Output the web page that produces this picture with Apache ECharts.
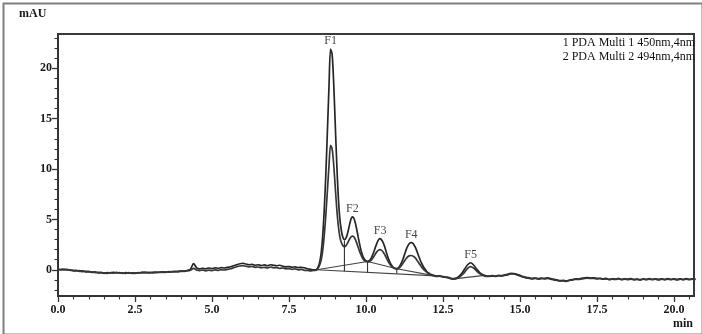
<!DOCTYPE html>
<html><head><meta charset="utf-8">
<script src="https://cdn.jsdelivr.net/npm/echarts@6/dist/echarts.min.js"></script>
<style>html,body{margin:0;padding:0;background:#fff}#c{width:702px;height:334px}</style>
</head><body><div id="c"></div>
<script>
// retention time (min)
var times = [
0.0,0.1,0.2,0.3,0.4,0.5,0.6,0.7,0.8,0.9,1.0,1.1,1.2,1.3,1.4,1.5,1.6,1.7,1.8,1.9,2.0,2.1,2.2,2.3,2.4,2.5,2.6,2.7,2.8,2.9,3.0,3.1,3.2,3.3,3.4,3.5,3.6,3.7,3.8,3.9,4.0,4.1,4.2,4.3,4.4,4.5,4.6,4.7,4.8,4.9,5.0,5.1,5.2,5.3,5.4,5.5,5.6,5.7,5.8,5.9,6.0,6.1,6.2,6.3,6.4,6.5,6.6,6.7,6.8,6.9,7.0,7.1,7.2,7.3,7.4,7.5,7.6,7.7,7.8,7.9,8.0,8.1,8.2,8.3,
8.35,8.40,8.45,8.50,8.55,8.60,8.65,8.70,8.75,8.80,8.85,8.90,8.95,9.00,9.05,9.10,9.15,9.20,9.25,9.30,9.35,9.40,9.45,9.50,9.55,9.60,9.65,9.70,9.75,9.80,9.85,9.90,9.95,10.00,10.05,10.10,10.15,10.20,10.25,10.30,10.35,10.40,10.45,10.50,10.55,10.60,10.65,10.70,10.75,10.80,10.85,10.90,10.95,11.00,11.05,11.10,11.15,11.20,11.25,11.30,11.35,11.40,11.45,11.50,11.55,11.60,11.65,11.70,11.75,11.80,11.85,11.90,11.95,12.00,12.05,
12.1,12.2,12.3,12.4,12.5,12.6,12.7,12.8,12.9,13.0,13.1,13.2,13.3,13.4,13.5,13.6,13.7,13.8,13.9,14.0,14.1,14.2,14.3,14.4,14.5,14.6,14.7,14.8,14.9,15.0,15.1,15.2,15.3,15.4,15.5,15.6,15.7,15.8,15.9,16.0,16.1,16.2,16.3,16.4,16.5,16.6,16.7,16.8,16.9,17.0,17.1,17.2,17.3,17.4,17.5,17.6,17.7,17.8,17.9,18.0,18.1,18.2,18.3,18.4,18.5,18.6,18.7,18.8,18.9,19.0,19.1,19.2,19.3,19.4,19.5,19.6,19.7,19.8,19.9,20.0,20.1,20.2,20.3,20.4,20.5,20.6,20.7
];
// 1 PDA Multi 1 450nm,4nm (mAU)
var s450 = [
0.05,0.0,0.08,-0.02,0.0,-0.1,-0.05,-0.15,-0.1,-0.2,-0.15,-0.25,-0.2,-0.3,-0.25,-0.35,-0.28,-0.32,-0.25,-0.3,-0.28,-0.35,-0.27,-0.33,-0.3,-0.36,-0.28,-0.3,-0.22,-0.3,-0.25,-0.3,-0.22,-0.26,-0.2,-0.25,-0.18,-0.22,-0.15,-0.2,-0.1,-0.15,-0.05,0.05,0.62,0.2,0.1,0.15,0.1,0.18,0.12,0.2,0.15,0.22,0.18,0.25,0.3,0.4,0.5,0.6,0.65,0.58,0.5,0.55,0.45,0.5,0.42,0.48,0.4,0.5,0.45,0.4,0.45,0.35,0.3,0.32,0.25,0.3,0.22,0.25,0.2,0.1,0.05,0.0,
0.0,0.05,0.3,0.8,1.8,3.6,6.3,9.8,14.0,18.3,21.9,21.4,18.6,14.6,10.6,7.3,5.1,3.9,3.2,3.0,3.15,3.6,4.25,4.9,5.25,5.15,4.7,4.0,3.2,2.45,1.8,1.35,1.05,0.9,0.85,0.9,1.05,1.35,1.75,2.2,2.6,2.95,3.1,3.0,2.75,2.35,1.85,1.35,0.95,0.6,0.38,0.22,0.14,0.12,0.2,0.38,0.68,1.05,1.5,1.95,2.32,2.58,2.7,2.68,2.52,2.25,1.88,1.45,1.05,0.68,0.38,0.12,-0.08,-0.25,-0.35,
-0.45,-0.55,-0.62,-0.6,-0.68,-0.72,-0.78,-0.88,-0.85,-0.7,-0.4,0.05,0.5,0.7,0.45,0.05,-0.3,-0.5,-0.6,-0.62,-0.58,-0.62,-0.55,-0.58,-0.5,-0.45,-0.35,-0.38,-0.45,-0.55,-0.68,-0.75,-0.8,-0.85,-0.82,-0.88,-0.82,-0.86,-0.8,-0.88,-0.95,-1.0,-1.08,-1.05,-1.1,-1.02,-0.98,-0.9,-0.92,-0.85,-0.8,-0.78,-0.82,-0.8,-0.86,-0.84,-0.9,-0.86,-0.95,-0.9,-0.92,-0.86,-0.95,-0.9,-0.93,-0.88,-0.96,-0.92,-0.98,-0.9,-0.95,-0.88,-0.94,-0.9,-0.96,-0.9,-0.95,-0.88,-0.94,-0.9,-0.96,-0.9,-0.95,-0.88,-0.94,-0.9,-0.92
];
// 2 PDA Multi 2 494nm,4nm (mAU)
var s494 = [
0.0,0.05,-0.02,0.05,-0.05,-0.05,-0.12,-0.08,-0.18,-0.15,-0.22,-0.2,-0.28,-0.25,-0.32,-0.3,-0.35,-0.28,-0.33,-0.26,-0.34,-0.3,-0.36,-0.28,-0.35,-0.3,-0.33,-0.26,-0.3,-0.25,-0.3,-0.24,-0.28,-0.22,-0.25,-0.2,-0.24,-0.17,-0.2,-0.13,-0.17,-0.1,-0.1,-0.05,0.15,-0.02,-0.08,-0.02,-0.1,-0.03,-0.08,0.0,-0.05,0.02,-0.02,0.05,0.1,0.2,0.3,0.38,0.42,0.35,0.3,0.33,0.25,0.28,0.2,0.25,0.18,0.28,0.2,0.22,0.15,0.18,0.1,0.12,0.05,0.1,0.0,0.05,-0.05,-0.05,-0.1,-0.05,
-0.05,0.0,0.2,0.5,1.05,2.05,3.6,5.6,8.0,10.4,12.35,12.0,10.5,8.3,6.1,4.4,3.3,2.7,2.4,2.3,2.4,2.65,2.95,3.2,3.35,3.3,3.05,2.65,2.2,1.75,1.4,1.1,0.92,0.82,0.78,0.8,0.9,1.08,1.3,1.55,1.78,1.93,2.0,1.95,1.8,1.55,1.25,0.95,0.68,0.45,0.28,0.17,0.1,0.08,0.12,0.24,0.42,0.64,0.88,1.1,1.28,1.38,1.42,1.4,1.32,1.18,0.98,0.75,0.52,0.3,0.1,-0.05,-0.18,-0.3,-0.4,
-0.5,-0.6,-0.66,-0.64,-0.72,-0.75,-0.82,-0.92,-0.9,-0.78,-0.55,-0.25,0.15,0.32,0.15,-0.15,-0.4,-0.55,-0.65,-0.66,-0.62,-0.66,-0.6,-0.62,-0.55,-0.5,-0.4,-0.42,-0.5,-0.6,-0.72,-0.8,-0.85,-0.9,-0.86,-0.92,-0.87,-0.9,-0.85,-0.92,-1.0,-1.05,-1.12,-1.1,-1.14,-1.06,-1.02,-0.95,-0.96,-0.9,-0.85,-0.83,-0.86,-0.85,-0.9,-0.88,-0.94,-0.9,-0.98,-0.94,-0.96,-0.9,-0.98,-0.94,-0.97,-0.92,-1.0,-0.96,-1.02,-0.94,-0.98,-0.92,-0.98,-0.94,-1.0,-0.94,-0.99,-0.92,-0.98,-0.94,-1.0,-0.94,-0.99,-0.92,-0.98,-0.94,-0.96
];
// integration baselines
var baseUpperT = [8.4, 10.05, 11.0, 12.15];
var baseUpperV = [0.0, 0.82, 0.1, -0.55];
var baseLowerT = [8.4, 12.25];
var baseLowerV = [0.0, -0.6];
var baseF5T = [12.85, 13.85];
var baseF5V = [-0.9, -0.55];
// drop lines
var dropT = [9.3, 10.05, 11.0];
var dropTop = [2.9, 0.82, 0.1];
var dropBottom = [-0.14, -0.26, -0.37];
// peak labels
var peakNames = ['F1', 'F2', 'F3', 'F4', 'F5'];
var peakT = [8.85, 9.56, 10.46, 11.47, 13.4];
var peakV = [21.95, 5.25, 3.1, 2.7, 0.7];
// axis ticks
var xLabels = [0, 2.5, 5, 7.5, 10, 12.5, 15, 17.5, 20];
var xMinor = [0.5,1,1.5,2,3,3.5,4,4.5,5.5,6,6.5,7,8,8.5,9,9.5,10.5,11,11.5,12,13,13.5,14,14.5,15.5,16,16.5,17,18,18.5,19,19.5,20.5];
var yLabels = [0, 5, 10, 15, 20];
var yMinor = [-2,-1,1,2,3,4,6,7,8,9,11,12,13,14,16,17,18,19,21,22,23];
var legendLines = ['1 PDA Multi 1 450nm,4nm', '2 PDA Multi 2 494nm,4nm'];

var XMIN = 0, XMAX = 20.65, YMIN = -2.6, YMAX = 23.4;
var FONT = '"Liberation Serif","Times New Roman",serif';
var AX = '#333';

function pairs(t, v) { return t.map(function (x, i) { return [x, v[i]]; }); }

var series = [
  { type: 'line', data: pairs(times, s450), smooth: 0.3, symbol: 'none', lineStyle: { color: '#262626', width: 1.7 }, z: 3 },
  { type: 'line', data: pairs(times, s494), smooth: 0.3, symbol: 'none', lineStyle: { color: '#363636', width: 1.7 }, z: 3 },
  { type: 'line', data: pairs(baseUpperT, baseUpperV), symbol: 'none', lineStyle: { color: '#444', width: 1.1 }, z: 2 },
  { type: 'line', data: pairs(baseLowerT, baseLowerV), symbol: 'none', lineStyle: { color: '#444', width: 1.1 }, z: 2 },
  { type: 'line', data: pairs(baseF5T, baseF5V), symbol: 'none', lineStyle: { color: '#444', width: 1.1 }, z: 2 }
];
dropT.forEach(function (t, i) {
  series.push({ type: 'line', data: [[t, dropTop[i]], [t, dropBottom[i]]], symbol: 'none', lineStyle: { color: '#333', width: 1.1 }, z: 2 });
});
series.push({
  type: 'scatter', symbolSize: 0, z: 5,
  data: peakNames.map(function (n, i) { return { value: [peakT[i], peakV[i]], name: n }; }),
  label: { show: true, position: 'top', distance: 2, formatter: '{b}', fontFamily: FONT, fontSize: 12, color: '#111' }
});

var chart = echarts.init(document.getElementById('c'), null, { renderer: 'canvas' });
chart.setOption({
  animation: false,
  backgroundColor: '#fff',
  grid: { left: 58, right: 8, top: 34, bottom: 38, show: true, borderColor: '#3a3a3a', borderWidth: 2, backgroundColor: 'transparent' },
  xAxis: [
    { type: 'value', min: XMIN, max: XMAX, position: 'bottom',
      axisLine: { show: true, onZero: false, lineStyle: { color: AX, width: 2 } },
      axisTick: { show: true, customValues: xLabels, length: 6, lineStyle: { color: AX, width: 1.3 } },
      axisLabel: { customValues: xLabels, formatter: function (v) { return v.toFixed(1); }, fontFamily: FONT, fontSize: 12, fontWeight: 'bold', color: '#1a1a1a', margin: 8 },
      splitLine: { show: false } },
    { type: 'value', min: XMIN, max: XMAX, position: 'bottom',
      axisLine: { show: false, onZero: false },
      axisTick: { show: true, customValues: xMinor, length: 3.5, lineStyle: { color: AX, width: 1.1 } },
      axisLabel: { show: false }, splitLine: { show: false } }
  ],
  yAxis: [
    { type: 'value', min: YMIN, max: YMAX, position: 'left',
      axisLine: { show: true, onZero: false, lineStyle: { color: AX, width: 2 } },
      axisTick: { show: true, customValues: yLabels, length: 6, lineStyle: { color: AX, width: 1.3 } },
      axisLabel: { customValues: yLabels, fontFamily: FONT, fontSize: 12, fontWeight: 'bold', color: '#1a1a1a', margin: 6 },
      splitLine: { show: false } },
    { type: 'value', min: YMIN, max: YMAX, position: 'left',
      axisLine: { show: false, onZero: false },
      axisTick: { show: true, customValues: yMinor, length: 3.5, lineStyle: { color: AX, width: 1.1 } },
      axisLabel: { show: false }, splitLine: { show: false } }
  ],
  series: series.map(function (s) { s.xAxisIndex = 0; s.yAxisIndex = 0; return s; }),
  graphic: [
    { type: 'rect', left: 1, top: 1, shape: { x: 0, y: 0, width: 699, height: 331 }, style: { fill: 'none', stroke: '#808080', lineWidth: 2 }, silent: true },
    { type: 'text', left: 19, top: 8, style: { text: 'mAU', font: 'bold 12px ' + FONT, fill: '#1a1a1a' } },
    { type: 'text', right: 9, top: 318, style: { text: 'min', font: 'bold 12px ' + FONT, fill: '#1a1a1a' } },
    { type: 'text', right: 7, top: 36, style: { text: legendLines.join('\n'), font: '12px ' + FONT, fill: '#111', align: 'right', lineHeight: 14 } }
  ]
});
</script>
</body></html>
